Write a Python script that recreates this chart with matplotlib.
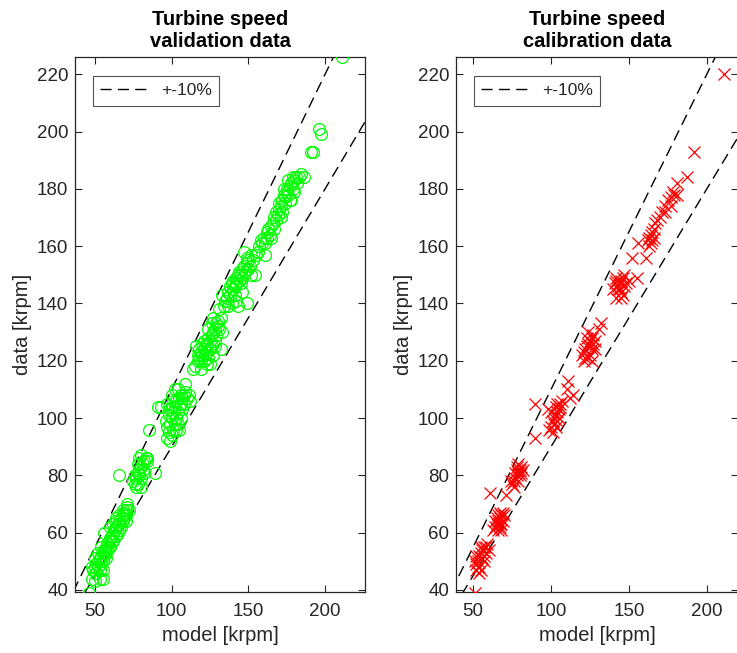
import matplotlib
matplotlib.use("Agg")
import matplotlib.pyplot as plt
import numpy as np

plt.rcParams['font.family'] = ['Liberation Sans', 'DejaVu Sans']

# ---------------- data ----------------
val_model = [46, 48, 50, 53, 55, 49, 50, 51, 51, 52, 52, 53, 53, 54, 54, 55, 55, 56, 56, 57, 57, 58, 58, 59, 59, 60, 56, 54, 52, 57, 60, 61, 50, 48, 55,
             61, 62, 62, 63, 63, 64, 64, 65, 65, 66, 66, 67, 67, 68, 68, 69, 69, 70, 70, 71, 71, 72, 66, 68, 64, 62, 60, 70,
             66, 75, 76, 77, 78, 78, 79, 79, 80, 80, 81, 81, 82, 82, 83, 84, 77, 80, 76, 79, 80, 84, 89, 85, 78,
             91, 93, 96, 97, 97, 98, 98, 99, 99, 100, 100, 100, 101, 101, 102, 102, 102, 103, 103, 103, 104, 104, 105, 105, 106, 106, 107, 107, 108, 108, 109, 109, 110, 111, 112, 104, 106, 99, 101, 105, 100, 97,
             114, 115, 116, 117, 117, 118, 118, 119, 119, 120, 120, 121, 121, 122, 122, 123, 123, 124, 124, 125, 125, 125, 126, 126, 127, 127, 128, 128, 129, 129, 130, 130, 131, 132, 132, 133, 124, 126, 127, 128, 121, 123, 119,
             131, 133, 134, 135, 136, 137, 138, 138, 139, 139, 140, 140, 141, 141, 142, 142, 143, 143, 144, 144, 145, 145, 146, 146, 147, 147, 148, 149, 149, 149, 150, 150, 151, 152, 152, 153, 154, 155, 156, 157, 158, 159, 160, 161, 146, 142, 137,
             161, 162, 162, 163, 164, 165, 165, 166, 167, 167, 168, 168, 169, 170, 170, 171, 172, 172, 173, 174, 174, 175, 175, 176, 177, 177, 178, 179, 179, 180, 181, 182, 183, 184, 186, 176, 178, 180, 173, 171,
             191, 192, 196, 197, 211]
val_data = [39, 44, 43, 44, 44, 47, 48, 46, 49, 48, 50, 51, 47, 49, 52, 50, 53, 52, 54, 55, 53, 56, 54, 57, 55, 58, 60, 55, 53, 51, 55, 57, 51, 48, 47,
            59, 60, 63, 61, 64, 62, 65, 63, 60, 64, 66, 65, 62, 66, 64, 67, 65, 68, 66, 69, 70, 68, 61, 68, 59, 57, 62, 64,
            80, 78, 77, 79, 81, 77, 80, 82, 83, 79, 84, 82, 85, 81, 86, 85, 76, 76, 80, 86, 87, 86, 81, 96, 84,
            104, 104, 99, 93, 97, 95, 101, 92, 98, 94, 100, 104, 96, 102, 98, 104, 110, 96, 100, 106, 102, 98, 104, 107, 105, 100, 107, 103, 108, 105, 112, 109, 107, 108, 106, 110, 108, 103, 106, 96, 108, 105,
            117, 118, 125, 120, 122, 121, 124, 123, 120, 122, 126, 124, 120, 125, 122, 126, 123, 121, 128, 119, 124, 127, 129, 125, 130, 122, 131, 127, 133, 129, 132, 134, 131, 124, 135, 130, 131, 133, 135, 125, 127, 119, 117,
            138, 143, 139, 141, 142, 144, 143, 146, 140, 147, 145, 148, 146, 143, 149, 147, 150, 139, 148, 151, 150, 147, 152, 149, 158, 153, 151, 156, 140, 154, 152, 155, 153, 157, 150, 155, 150, 157, 158, 160, 162, 161, 163, 157, 144, 141, 139,
            161, 163, 165, 166, 164, 167, 163, 168, 166, 170, 172, 169, 171, 173, 175, 174, 176, 172, 178, 177, 175, 179, 180, 178, 181, 176, 182, 184, 180, 183, 184, 182, 184, 185, 184, 183, 176, 179, 180, 170,
            193, 193, 201, 199, 226]

cal_model = [51, 52, 53, 54, 55, 56, 57, 58, 59, 55, 54, 53, 56, 57, 58, 51, 52, 60, 55, 54, 57, 52,
             61, 71,
             63, 64, 65, 66, 67, 68, 69, 66, 67, 68, 69, 65, 66, 67, 70, 64, 68, 67,
             75, 76, 77, 78, 79, 80, 81, 78, 79, 80, 77, 76, 82, 79, 74, 81, 78,
             90, 90,
             99, 100, 101, 102, 103, 104, 105, 106, 103, 102, 104, 100, 98, 105, 101, 103, 106, 107, 104,
             111, 110, 114, 112,
             120, 121, 122, 123, 124, 125, 126, 127, 124, 126, 128, 125, 122, 127, 123, 121, 128, 126, 124, 125,
             132, 131,
             141, 142, 143, 144, 145, 146, 144, 145, 147, 148, 142, 143, 146, 140, 142, 145, 147, 150,
             155, 152, 161, 156,
             162, 163, 164, 165, 166, 164, 166, 167, 168, 170, 165, 163,
             173, 175, 177, 178, 179, 181, 181, 177, 173, 171, 187,
             192, 211]
cal_data = [39, 49, 50, 52, 53, 54, 55, 55, 56, 47, 46, 48, 51, 52, 53, 50, 52, 54, 55, 48, 50, 47,
            74, 73,
            61, 62, 63, 64, 65, 66, 67, 61, 62, 63, 64, 65, 66, 67, 66, 64, 61, 63,
            77, 78, 79, 80, 81, 82, 83, 83, 84, 80, 81, 76, 82, 78, 78, 81, 82,
            105, 93,
            96, 97, 99, 100, 101, 102, 103, 104, 104, 98, 99, 102, 103, 100, 95, 97, 105, 106, 105,
            113, 110, 108, 107,
            122, 123, 124, 125, 126, 127, 128, 129, 121, 120, 124, 122, 121, 126, 128, 120, 127, 124, 130, 125,
            133, 131,
            147, 148, 146, 147, 148, 149, 145, 144, 146, 147, 149, 145, 143, 145, 142, 142, 150, 148,
            149, 156, 156, 161,
            162, 163, 164, 165, 163, 161, 166, 168, 169, 170, 162, 160,
            174, 176, 177, 179, 178, 182, 178, 174, 172, 172, 184,
            193, 220]

band_upper = 1.1
band_lower = 0.9
legend_label = '+-10%'
x_ticks = [50, 100, 150, 200]
y_ticks = [40, 60, 80, 100, 120, 140, 160, 180, 200, 220]

# ---------------- figure ----------------
fig = plt.figure(figsize=(7.37, 6.53), dpi=100)
W, H = 737, 653
axL = fig.add_axes([75 / W, 1 - 592 / H, 290 / W, 535 / H])
axR = fig.add_axes([456 / W, 1 - 592 / H, 282 / W, 535 / H])

tc = '#262626'
DASH = (8, 4.5)

def style(ax, title, xlim, ylim, axw):
    line_x = np.array([0, 300])
    ax.plot(line_x, band_upper * line_x, color='k', lw=1.0, dashes=DASH, label=legend_label)
    ax.plot(line_x, band_lower * line_x, color='k', lw=1.0, dashes=DASH)
    ax.set_xlim(*xlim)
    ax.set_ylim(*ylim)
    ax.set_xticks(x_ticks)
    ax.set_yticks(y_ticks)
    ax.tick_params(direction='in', length=5, width=0.8, colors=tc, labelsize=13.5,
                   top=True, right=True)
    ax.tick_params(axis='x', pad=8)
    ax.tick_params(axis='y', pad=5)
    for s in ax.spines.values():
        s.set_color(tc)
        s.set_linewidth(0.9)
    ax.set_xlabel('model [krpm]', fontsize=14.5, color=tc, labelpad=4)
    ax.set_ylabel('data [krpm]', fontsize=14.5, color=tc, labelpad=3)
    ax.set_title(title, fontsize=14.5, fontweight='bold', color='k', pad=7, linespacing=1.2)
    fs = 12.5
    hl = (3 * (DASH[0] + DASH[1]) - DASH[1]) / fs
    leg = ax.legend(loc='upper left', fontsize=fs, frameon=True, fancybox=False,
                    edgecolor=tc, handlelength=hl, handletextpad=0.85,
                    borderpad=0.42, borderaxespad=0,
                    bbox_to_anchor=(18 / axw, (592 - 76) / 535))
    leg.get_frame().set_linewidth(0.8)
    for t in leg.get_texts():
        t.set_color(tc)

axL.plot(val_model, val_data, 'o', mfc='none', mec='#00ff00', ms=8.5, mew=0.9, zorder=3)
style(axL, 'Turbine speed\nvalidation data', (37, 226), (39.3, 226), 290)

axR.plot(cal_model, cal_data, 'x', color='#ff0000', ms=8.5, mew=0.9, zorder=3)
style(axR, 'Turbine speed\ncalibration data', (39, 220), (39.3, 226), 282)

fig.savefig('out.png', dpi=100)
